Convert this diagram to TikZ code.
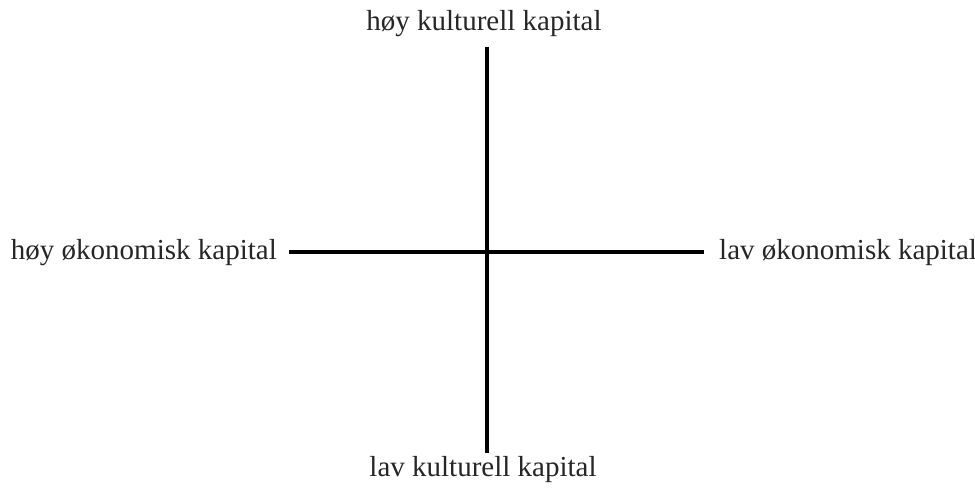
\documentclass[tikz,border=0pt]{standalone}
\usepackage{fontspec}
\setmainfont{Liberation Serif}
\begin{document}
\begin{tikzpicture}[x=1pt,y=-1pt,
  lbl/.style={inner sep=0pt,text=black!85,font=\fontsize{29}{32}\selectfont},
  axis/.style={line width=3.5pt}]
\useasboundingbox (0,0) rectangle (975,490);
\node[lbl,anchor=base] (hk) at (484,30) {høy kulturell kapital};
\node[lbl,anchor=base] (lk) at (483,476) {lav kulturell kapital};
\node[lbl,anchor=base east] (ho) at (277,259) {høy økonomisk kapital};
\node[lbl,anchor=base west] (lo) at (719,259) {lav økonomisk kapital};
\coordinate (t) at (487,47);
\coordinate (b) at (487,453);
\coordinate (l) at (289,252);
\coordinate (r) at (704,252);
\draw[axis] (t) -- (b);
\draw[axis] (l) -- (r);
\end{tikzpicture}
\end{document}
